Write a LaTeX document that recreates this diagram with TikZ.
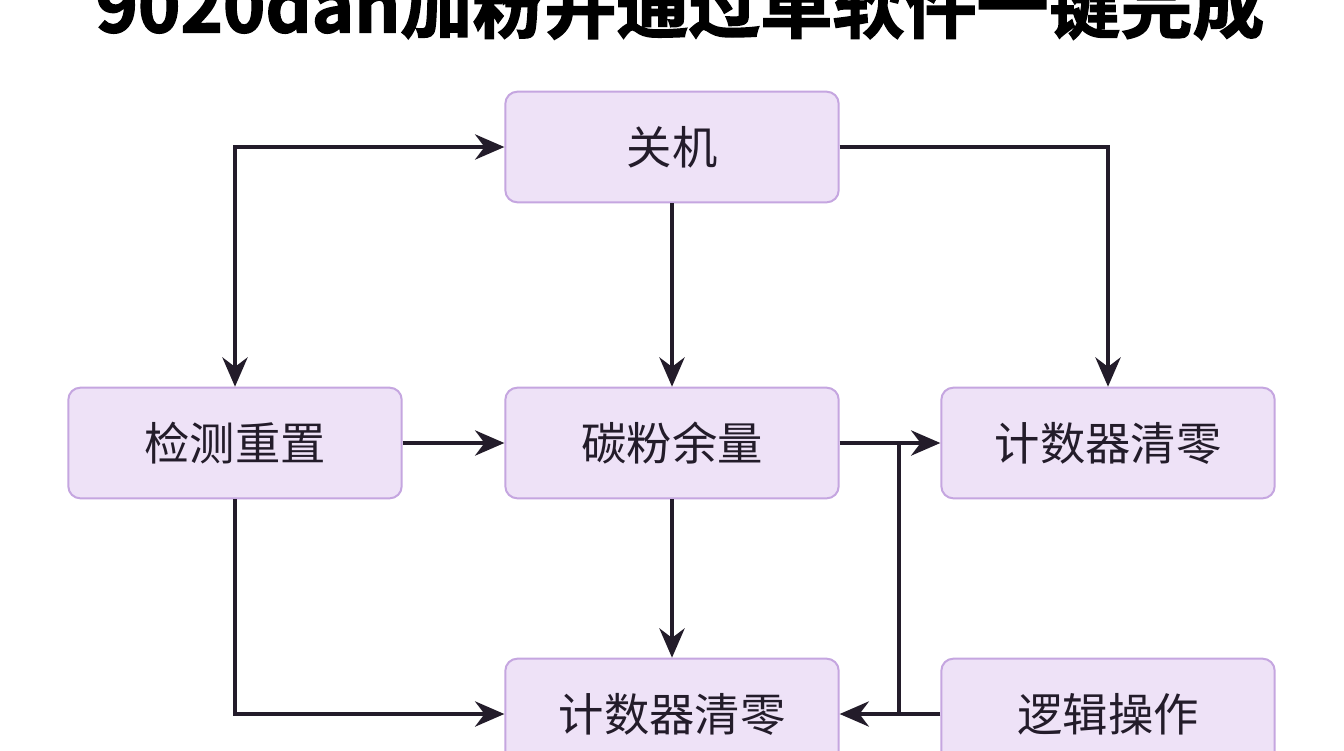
\documentclass[tikz,border=0pt]{standalone}
\usepackage{fontspec}
\newfontfamily\cjk{Noto Sans CJK SC}
\newfontfamily\cjkb{Noto Sans CJK SC Bold}[FakeBold=2]
\usetikzlibrary{arrows.meta}
\definecolor{boxfill}{HTML}{EEE2F7}
\definecolor{boxline}{HTML}{C5A6E0}
\definecolor{ln}{HTML}{231C2A}
\begin{document}
\begin{tikzpicture}[x=0.75pt,y=-0.75pt,
  box/.style={draw=boxline,fill=boxfill,line width=1.5pt,rounded corners=9pt,minimum width=250pt,minimum height=83pt,font=\cjk\fontsize{34}{34}\selectfont,text=ln},
  conn/.style={draw=ln,line width=2.3pt,-{Stealth[length=22pt,width=19pt]}},
  plain/.style={draw=ln,line width=2.3pt}]
\useasboundingbox[fill=white] (0,0) rectangle (1344,750);
\node[font=\cjkb\fontsize{54}{54}\selectfont,text=black] (title) at (680,5) {9020dan加粉并通过单软件一键完成};
\node[box] (gj) at (672,147) {关机};
\node[box] (jc) at (235,443) {检测重置};
\node[box] (tf) at (672,443) {碳粉余量};
\node[box] (js1) at (1108,443) {计数器清零};
\node[box] (js2) at (672,714) {计数器清零};
\node[box] (lj) at (1108,714) {逻辑操作};
\coordinate (j1) at (899,443);
\coordinate (j2) at (899,714);
\draw[conn,{Stealth[length=22pt,width=19pt]}-{Stealth[length=22pt,width=19pt]}] (jc.north) |- (gj.west);
\draw[conn] (gj.east) -| (js1.north);
\draw[conn] (gj.south) -- (tf.north);
\draw[conn] (jc.east) -- (tf.west);
\draw[conn] (tf.east) -- (js1.west);
\draw[conn] (tf.south) -- (js2.north);
\draw[conn] (jc.south) |- (js2.west);
\draw[conn] (lj.west) -- (js2.east);
\draw[plain] (j1) -- (j2);
\end{tikzpicture}
\end{document}
